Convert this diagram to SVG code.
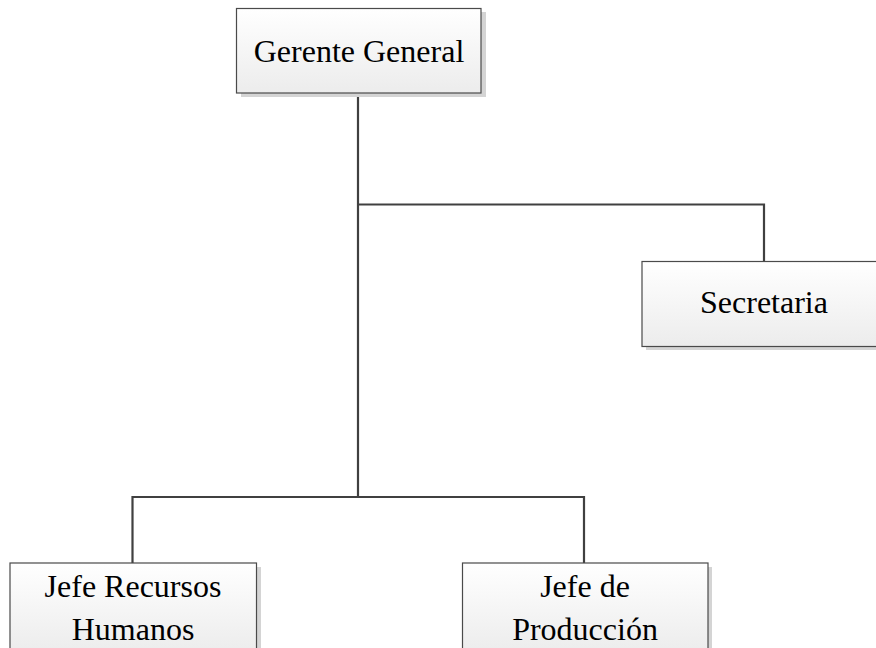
<svg xmlns="http://www.w3.org/2000/svg" width="876" height="648" viewBox="0 0 876 648">
  <defs>
    <linearGradient id="boxFill" x1="0" y1="0" x2="0" y2="1">
      <stop offset="0" stop-color="#ffffff"/>
      <stop offset="1" stop-color="#ececec"/>
    </linearGradient>
  </defs>
  <style>
    .shadow { fill: #d4d4d4; }
    .box { fill: url(#boxFill); stroke: #4a4a4a; stroke-width: 1.2; }
    .label { font-family: "Liberation Serif", "Times New Roman", serif; font-size: 32px; fill: #000; text-anchor: middle; }
    .link { fill: none; stroke: #404040; stroke-width: 2.2; }
  </style>

  <g id="connectors">
    <path class="link" d="M358 93 V497"/>
    <path class="link" d="M358 204.5 H764 V261"/>
    <path class="link" d="M132.5 497 H584 M132.5 496 V563 M584 496 V563"/>
  </g>

  <g id="gerente-general">
    <rect class="shadow" x="241" y="12" width="245" height="85"/>
    <rect class="box" x="236.5" y="8.5" width="244.5" height="84.5"/>
    <text class="label" x="359" y="62">Gerente General</text>
  </g>

  <g id="secretaria">
    <rect class="shadow" x="646" y="265" width="245" height="85"/>
    <rect class="box" x="642" y="261.5" width="245" height="85"/>
    <text class="label" x="764" y="313">Secretaria</text>
  </g>

  <g id="jefe-recursos-humanos">
    <rect class="shadow" x="14" y="567" width="247" height="90"/>
    <rect class="box" x="10" y="563" width="246.5" height="90"/>
    <text class="label" x="133" y="597">Jefe Recursos</text>
    <text class="label" x="133" y="640">Humanos</text>
  </g>

  <g id="jefe-produccion">
    <rect class="shadow" x="467" y="567" width="245" height="90"/>
    <rect class="box" x="462.5" y="563" width="245.5" height="90"/>
    <text class="label" x="585" y="597">Jefe de</text>
    <text class="label" x="585" y="640">Producción</text>
  </g>
</svg>
